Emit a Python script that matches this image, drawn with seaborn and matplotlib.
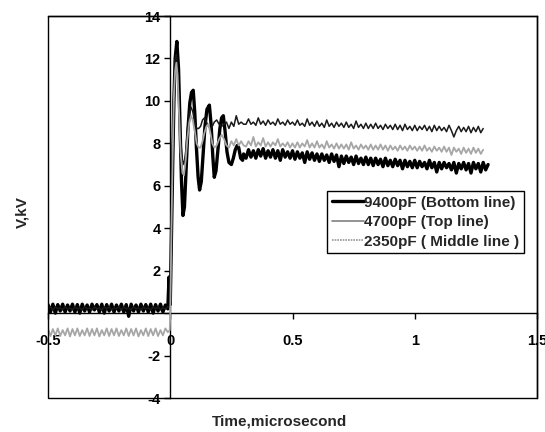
import matplotlib
matplotlib.use("Agg")
import matplotlib.pyplot as plt
from matplotlib.lines import Line2D
from matplotlib.patches import Rectangle
import seaborn as sns

# ---------------- data ----------------
# sample times before the trigger (shared)
t_pre = [-0.50, -0.49, -0.48, -0.47, -0.46, -0.45, -0.44, -0.43, -0.42, -0.41,
         -0.40, -0.39, -0.38, -0.37, -0.36, -0.35, -0.34, -0.33, -0.32, -0.31,
         -0.30, -0.29, -0.28, -0.27, -0.26, -0.25, -0.24, -0.23, -0.22, -0.21,
         -0.20, -0.19, -0.18, -0.17, -0.16, -0.15, -0.14, -0.13, -0.12, -0.11,
         -0.10, -0.09, -0.08, -0.07, -0.06, -0.05, -0.04, -0.03, -0.02, -0.01]
# sample times in the settled part (shared)
t_post = [0.31, 0.32, 0.33, 0.34, 0.35, 0.36, 0.37, 0.38, 0.39, 0.40,
          0.41, 0.42, 0.43, 0.44, 0.45, 0.46, 0.47, 0.48, 0.49, 0.50,
          0.51, 0.52, 0.53, 0.54, 0.55, 0.56, 0.57, 0.58, 0.59, 0.60,
          0.61, 0.62, 0.63, 0.64, 0.65, 0.66, 0.67, 0.68, 0.69, 0.70,
          0.71, 0.72, 0.73, 0.74, 0.75, 0.76, 0.77, 0.78, 0.79, 0.80,
          0.81, 0.82, 0.83, 0.84, 0.85, 0.86, 0.87, 0.88, 0.89, 0.90,
          0.91, 0.92, 0.93, 0.94, 0.95, 0.96, 0.97, 0.98, 0.99, 1.00,
          1.01, 1.02, 1.03, 1.04, 1.05, 1.06, 1.07, 1.08, 1.09, 1.10,
          1.11, 1.12, 1.13, 1.14, 1.15, 1.16, 1.17, 1.18, 1.19, 1.20,
          1.21, 1.22, 1.23, 1.24, 1.25, 1.26, 1.27, 1.28, 1.29, 1.30]

# 9400pF (bottom line)
pre_9400 = [0.40, 0.05, 0.42, 0.00, 0.40, 0.10, 0.42, 0.05, 0.38, 0.10,
            0.42, 0.05, 0.40, 0.00, 0.42, 0.10, 0.38, 0.05, 0.42, 0.15,
            0.40, 0.05, 0.42, 0.00, 0.40, 0.10, 0.42, 0.05, 0.38, 0.10,
            0.42, 0.05, 0.40, -0.15, 0.42, 0.10, 0.38, 0.05, 0.42, 0.10,
            0.40, 0.05, 0.42, 0.00, 0.40, 0.10, 0.42, 0.05, 0.38, 0.20]
t_osc_9400 = [-0.005, 0.0, 0.005, 0.01, 0.015, 0.02, 0.027, 0.034, 0.04, 0.046,
              0.052, 0.058, 0.065, 0.072, 0.08, 0.087, 0.094, 0.10, 0.107, 0.114,
              0.12, 0.127, 0.134, 0.142, 0.15, 0.16, 0.167, 0.174, 0.18, 0.187,
              0.195, 0.203, 0.21, 0.217, 0.224, 0.232, 0.24, 0.25, 0.258, 0.266,
              0.274, 0.28, 0.288, 0.296, 0.30]
osc_9400 = [1.70, 0.40, 3.8, 7.0, 10.0, 12.0, 12.8, 11.5, 8.8, 6.2,
            4.6, 5.0, 6.8, 8.6, 9.9, 10.4, 10.5, 9.5, 7.8, 6.4,
            5.8, 6.2, 7.4, 8.8, 9.6, 9.8, 8.9, 7.4, 6.4, 6.7,
            7.7, 8.7, 9.2, 9.3, 8.6, 7.6, 7.1, 7.0, 7.3, 7.7,
            7.9, 7.8, 7.3, 7.2, 7.5]
post_9400 = [7.30, 7.70, 7.35, 7.65, 7.30, 7.70, 7.40, 7.75, 7.30, 7.65,
             7.35, 7.70, 7.30, 7.65, 7.20, 7.70, 7.35, 7.60, 7.30, 7.65,
             7.25, 7.60, 7.30, 7.55, 7.10, 7.60, 7.25, 7.55, 7.20, 7.50,
             7.15, 7.50, 7.20, 7.45, 7.10, 7.50, 7.15, 7.45, 6.90, 7.40,
             7.05, 7.40, 7.10, 7.35, 7.00, 7.40, 7.05, 7.30, 7.00, 7.35,
             7.00, 7.30, 6.95, 7.30, 7.00, 7.25, 6.90, 7.30, 6.95, 7.20,
             6.90, 7.25, 6.95, 7.20, 6.80, 7.20, 6.90, 7.15, 6.85, 7.20,
             6.85, 7.15, 6.90, 7.10, 6.80, 7.20, 6.85, 7.10, 6.65, 7.10,
             6.80, 7.10, 6.85, 7.05, 6.75, 7.10, 6.60, 7.05, 6.80, 7.10,
             6.75, 7.05, 6.60, 7.10, 6.80, 7.05, 6.65, 7.10, 6.75, 7.00]

# 4700pF (top line)
pre_4700 = [0.20, 0.30, 0.15, 0.30, 0.20, 0.25, 0.15, 0.30, 0.20, 0.25,
            0.15, 0.30, 0.20, 0.25, 0.15, 0.30, 0.20, 0.25, 0.15, 0.30,
            0.20, 0.25, 0.15, 0.30, 0.20, 0.30, 0.15, 0.25, 0.20, 0.30,
            0.15, 0.30, 0.20, 0.25, 0.15, 0.30, 0.20, 0.25, 0.15, 0.30,
            0.20, 0.25, 0.15, 0.30, 0.20, 0.30, 0.15, 0.25, 0.20, 0.30]
t_osc_4700 = [-0.003, 0.0, 0.005, 0.01, 0.015, 0.02, 0.025, 0.03, 0.036, 0.042,
              0.05, 0.056, 0.063, 0.07, 0.078, 0.085, 0.092, 0.10, 0.108, 0.116,
              0.124, 0.132, 0.14, 0.148, 0.156, 0.164, 0.172, 0.18, 0.19, 0.20,
              0.21, 0.22, 0.23, 0.24, 0.25, 0.26, 0.27, 0.28, 0.29, 0.30]
osc_4700 = [0.30, 0.50, 4.5, 8.0, 10.8, 12.0, 12.2, 11.6, 9.8, 8.2,
            7.2, 7.0, 7.6, 8.6, 9.4, 9.7, 9.5, 9.0, 8.7, 8.7,
            8.8, 9.1, 9.2, 9.0, 8.8, 8.7, 8.8, 9.0, 9.1, 8.9,
            8.8, 8.9, 9.0, 8.7, 9.0, 8.8, 9.3, 8.9, 9.0, 8.9]
post_4700 = [8.90, 9.15, 8.90, 9.00, 8.85, 9.20, 8.90, 9.05, 8.85, 9.10,
             8.90, 9.00, 8.85, 9.15, 8.90, 9.00, 8.85, 9.10, 8.90, 9.00,
             8.85, 9.10, 8.85, 8.95, 8.80, 9.15, 8.85, 9.00, 8.80, 9.05,
             8.80, 8.95, 8.75, 9.10, 8.80, 8.95, 8.75, 9.00, 8.80, 8.95,
             8.75, 9.00, 8.75, 8.90, 8.70, 9.05, 8.75, 8.90, 8.70, 8.95,
             8.70, 8.90, 8.70, 8.95, 8.70, 8.85, 8.65, 8.90, 8.70, 8.85,
             8.65, 8.90, 8.65, 8.85, 8.60, 8.90, 8.65, 8.80, 8.60, 8.85,
             8.60, 8.80, 8.65, 8.85, 8.60, 8.80, 8.55, 8.85, 8.60, 8.80,
             8.60, 8.75, 8.55, 8.85, 8.60, 8.30, 8.60, 8.80, 8.55, 8.75,
             8.55, 8.80, 8.50, 8.75, 8.55, 8.80, 8.50, 8.70]

# 2350pF (middle line)
pre_2350 = [-0.72, -1.08, -0.75, -1.05, -0.72, -1.08, -0.80, -1.05, -0.72, -1.10,
            -0.75, -1.05, -0.72, -1.08, -0.80, -1.05, -0.72, -1.08, -0.75, -1.05,
            -0.72, -1.10, -0.80, -1.05, -0.72, -1.08, -0.75, -1.05, -0.72, -1.08,
            -0.80, -1.05, -0.72, -1.08, -0.75, -1.05, -0.72, -1.10, -0.80, -1.05,
            -0.72, -1.08, -0.75, -1.05, -0.72, -1.08, -0.80, -1.05, -0.72, -0.90]
t_osc_2350 = [-0.002, 0.0, 0.005, 0.01, 0.015, 0.02, 0.025, 0.03, 0.036, 0.042,
              0.05, 0.056, 0.063, 0.07, 0.078, 0.085, 0.092, 0.10, 0.108, 0.116,
              0.124, 0.132, 0.14, 0.148, 0.156, 0.164, 0.172, 0.18, 0.19, 0.20,
              0.21, 0.22, 0.23, 0.24, 0.25, 0.26, 0.27, 0.28, 0.29, 0.30]
osc_2350 = [-0.80, 0.00, 4.0, 7.5, 10.2, 11.4, 11.8, 11.2, 9.4, 7.6,
            6.6, 6.5, 7.2, 8.2, 9.0, 9.3, 9.1, 8.6, 8.0, 7.8,
            7.8, 8.1, 8.5, 8.8, 8.9, 8.5, 8.0, 7.8, 7.9, 8.2,
            8.4, 8.2, 7.9, 7.8, 8.1, 7.9, 8.2, 7.9, 8.1, 7.9]
post_2350 = [7.85, 8.10, 7.90, 8.30, 7.85, 8.05, 7.90, 8.25, 7.85, 8.05,
             7.85, 8.05, 7.90, 8.20, 7.85, 8.00, 7.85, 8.05, 7.80, 8.00,
             7.80, 8.05, 7.80, 8.00, 7.85, 8.15, 7.80, 8.00, 7.80, 8.10,
             7.80, 7.95, 7.75, 8.10, 7.80, 7.95, 7.75, 8.00, 7.75, 7.95,
             7.75, 7.95, 7.70, 8.05, 7.75, 7.90, 7.70, 7.95, 7.75, 7.90,
             7.70, 7.95, 7.70, 7.90, 7.70, 7.95, 7.70, 7.90, 7.65, 7.90,
             7.70, 7.85, 7.65, 7.90, 7.70, 7.85, 7.65, 7.90, 7.70, 7.85,
             7.65, 7.85, 7.65, 7.90, 7.65, 7.80, 7.60, 7.85, 7.65, 7.80,
             7.60, 7.85, 7.60, 7.80, 7.45, 7.80, 7.60, 7.75, 7.50, 7.80,
             7.55, 7.75, 7.50, 7.80, 7.55, 7.75, 7.50, 7.70]

labels = ["9400pF (Bottom line)", "4700pF (Top line)", "2350pF ( Middle line )"]
x_ticks = [-0.5, 0, 0.5, 1, 1.5]
x_ticklabels = ["-0.5", "0", "0.5", "1", "1.5"]
y_ticks = [-4, -2, 0, 2, 4, 6, 8, 10, 12, 14]
y_ticklabels = ["-4", "-2", "", "2", "4", "6", "8", "10", "12", "14"]

# assemble full series
t_9400 = t_pre + t_osc_9400 + t_post
v_9400 = pre_9400 + osc_9400 + post_9400
t_4700 = t_pre + t_osc_4700 + t_post[:len(post_4700)]
v_4700 = pre_4700 + osc_4700 + post_4700
t_2350 = t_pre + t_osc_2350 + t_post[:len(post_2350)]
v_2350 = pre_2350 + osc_2350 + post_2350

# ---------------- style ----------------
sns.set_theme(style="white")
plt.rcParams["font.family"] = ["Liberation Sans", "DejaVu Sans"]
plt.rcParams["font.weight"] = "bold"

fig = plt.figure(figsize=(5.45, 4.32), dpi=100)
ax = fig.add_axes([48 / 545, 34 / 432, 489 / 545, 382 / 432])

sns.lineplot(x=t_9400, y=v_9400, ax=ax, color="black", linewidth=2.4,
             estimator=None, sort=False, zorder=3)
sns.lineplot(x=t_4700, y=v_4700, ax=ax, color="#1a1a1a", linewidth=1.1,
             estimator=None, sort=False, zorder=4)
sns.lineplot(x=t_2350, y=v_2350, ax=ax, color="#a6a6a6", linewidth=1.3,
             estimator=None, sort=False, zorder=5)

ax.set_xlim(-0.5, 1.5)
ax.set_ylim(-4, 14)

# crossing axes at zero (Excel style)
ax.spines["left"].set_position(("data", 0))
ax.spines["bottom"].set_position(("data", 0))
for s in ax.spines.values():
    s.set_color("black")
    s.set_linewidth(1.0)
    s.set_visible(True)
ax.add_patch(Rectangle((0, 0), 1, 1, transform=ax.transAxes, fill=False,
                       edgecolor="black", linewidth=1.0, clip_on=False, zorder=6))

ax.set_xticks(x_ticks)
ax.set_xticklabels(x_ticklabels, fontsize=10.5, fontweight="bold")
ax.set_yticks(y_ticks)
ax.set_yticklabels(y_ticklabels, fontsize=10.5, fontweight="bold")
ax.tick_params(axis="x", direction="out", length=4, width=1, pad=11,
               colors="black", bottom=True, top=False)
ax.tick_params(axis="y", direction="out", length=4, width=1, pad=3,
               colors="black", left=True, right=False)

ax.set_xlabel("Time,microsecond", fontsize=11, fontweight="bold")
ax.xaxis.set_label_coords((280 - 48) / 489, (398 - 415) / 382)
ax.set_ylabel("V,kV", fontsize=11, fontweight="bold")
ax.yaxis.set_label_coords((29 - 48) / 489, (398 - 212) / 382)

handles = [
    Line2D([], [], color="black", linewidth=2.4),
    Line2D([], [], color="#808080", linewidth=1.2),
    Line2D([], [], color="#999999", linewidth=1.2, linestyle=(0, (1, 0.6))),
]
leg = ax.legend(handles, labels, loc="upper left",
                bbox_to_anchor=((327 - 48) / 489, (398 - 191) / 382),
                prop={"size": 11, "weight": "bold"},
                frameon=True, fancybox=False, framealpha=1, edgecolor="black",
                borderpad=0.3, labelspacing=0.36, handlelength=2.1,
                handletextpad=0.05, borderaxespad=0)
leg.get_frame().set_linewidth(1.0)
leg.set_zorder(10)

fig.savefig("out.png", dpi=100)
